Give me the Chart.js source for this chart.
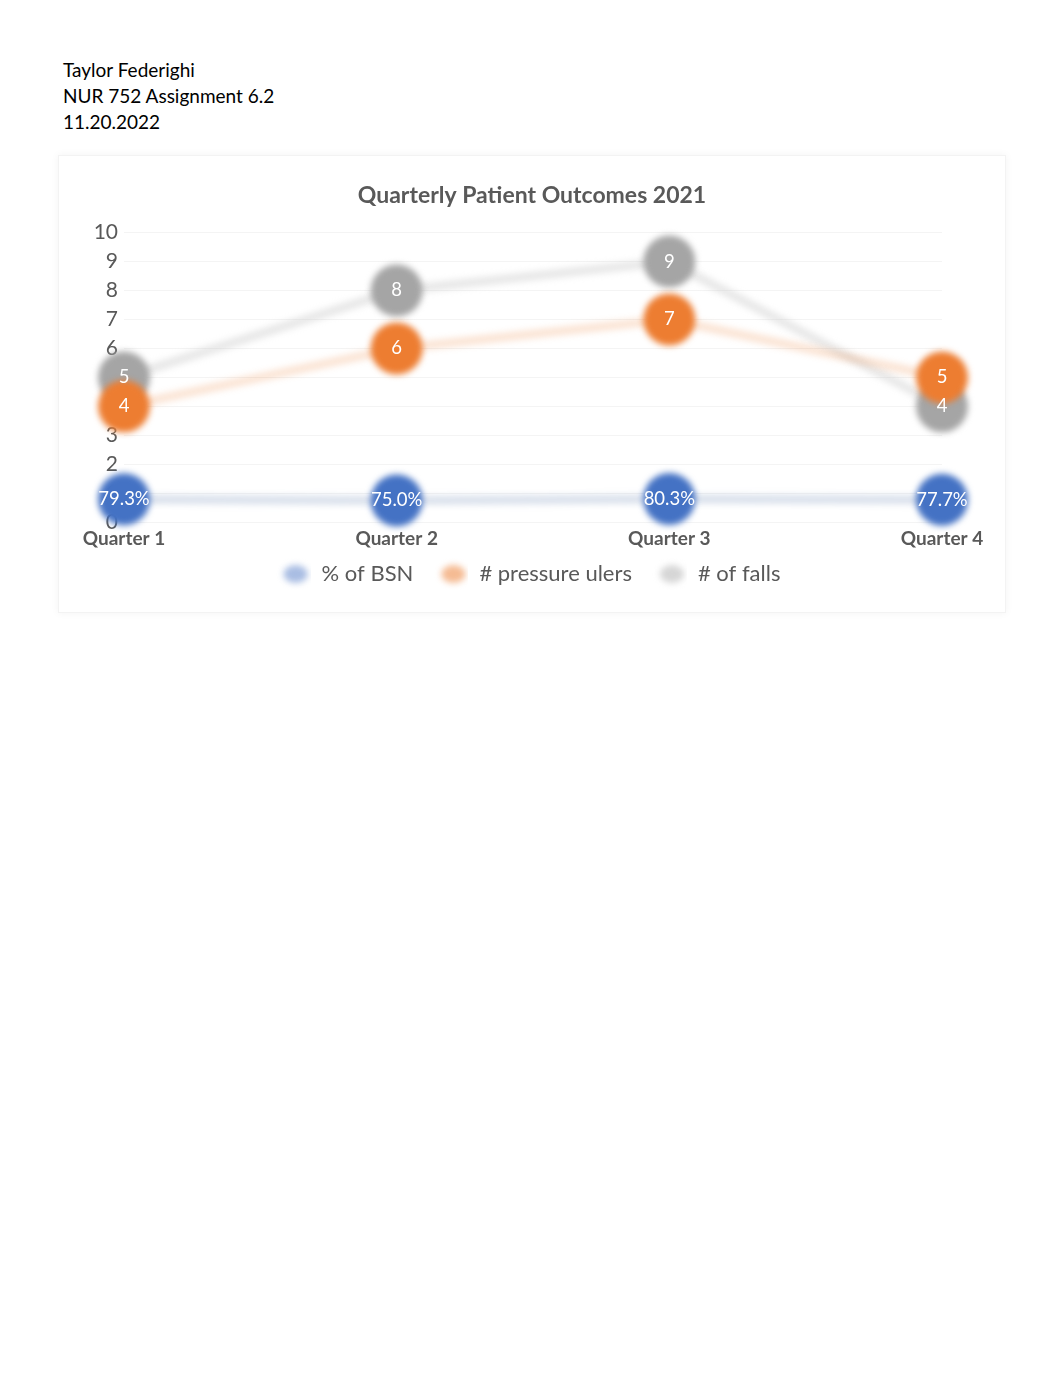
<!DOCTYPE html>
<html>
<head>
<meta charset="utf-8">
<script src="https://cdn.jsdelivr.net/npm/chart.js@4.4.0/dist/chart.umd.min.js"></script>
<style>
  body { margin: 0; background: #fff; font-family: Lato, sans-serif; }
  .header { position: absolute; left: 63px; top: 57px; font-size: 19px; line-height: 26px; color: #000; }
  .box { position: absolute; left: 58px; top: 155px; width: 948px; height: 458px;
         border: 1px solid #f3f3f3; box-shadow: 0 0 8px rgba(0,0,0,0.05); box-sizing: border-box; }
  canvas { display: block; }
</style>
</head>
<body>
<div class="header">Taylor Federighi<br>NUR 752 Assignment 6.2<br>11.20.2022</div>
<div class="box"><canvas id="chart" width="946" height="456"></canvas></div>
<script>
// data
const quarters = ['Quarter 1', 'Quarter 2', 'Quarter 3', 'Quarter 4'];
const bsnPercent = [79.3, 75.0, 80.3, 77.7];
const pressureUlers = [4, 6, 7, 5];
const falls = [5, 8, 9, 4];
const yMin = 0;
const yMax = 10;

const textGray = '#595959';

// blur marks like the original export, keep text sharp
const blurMarks = {
  id: 'blurMarks',
  beforeDatasetsDraw(chart) {
    chart.ctx.save();
    chart.ctx.filter = 'blur(3px)';
  },
  afterDatasetsDraw(chart) {
    chart.ctx.restore();
  }
};

const pointLabels = {
  id: 'pointLabels',
  afterDraw(chart) {
    const ctx = chart.ctx;
    ctx.save();
    ctx.font = '18.5px Lato';
    ctx.fillStyle = '#fff';
    ctx.textAlign = 'center';
    ctx.textBaseline = 'middle';
    chart.data.datasets.forEach((ds, i) => {
      const meta = chart.getDatasetMeta(i);
      meta.data.forEach((pt, j) => {
        const txt = i === 0 ? bsnPercent[j].toFixed(1) + '%' : String(ds.data[j]);
        ctx.fillText(txt, pt.x, pt.y);
      });
    });
    ctx.restore();
  }
};

// the marker sits right of its box, so nudge the legend back to the middle
const legendNudge = {
  id: 'legendNudge',
  afterLayout(chart) {
    chart.legend.left -= 10;
    chart.legend.right -= 10;
  }
};

// soft legend markers, drawn a bit right of the box centre
const legendFill = ['#a9bde3', '#f5bb93', '#d6d6d6'];
const legendMarker = color => {
  const c = document.createElement('canvas');
  c.width = 47;
  c.height = 32;
  const g = c.getContext('2d');
  g.filter = 'blur(3px)';
  g.fillStyle = color;
  g.beginPath();
  g.ellipse(23.5 + 8.5, 16, 12, 9, 0, 0, Math.PI * 2);
  g.fill();
  return c;
};

new Chart(document.getElementById('chart'), {
  type: 'line',
  data: {
    labels: quarters,
    datasets: [
      {
        label: '% of BSN',
        data: bsnPercent.map(v => v / 100),
        borderColor: 'rgba(150,170,200,0.35)',
        borderWidth: 9,
        pointRadius: 26,
        pointBackgroundColor: '#4472c4',
        pointBorderWidth: 0,
        clip: false
      },
      {
        label: '# pressure ulers',
        data: pressureUlers,
        borderColor: 'rgba(237,125,49,0.2)',
        borderWidth: 9,
        pointRadius: 26,
        pointBackgroundColor: '#ed7d31',
        pointBorderWidth: 0,
        clip: false
      },
      {
        label: '# of falls',
        data: falls,
        borderColor: 'rgba(190,190,190,0.35)',
        borderWidth: 9,
        pointRadius: 26,
        pointBackgroundColor: '#a5a5a5',
        pointBorderWidth: 0,
        clip: false
      }
    ]
  },
  options: {
    responsive: false,
    animation: false,
    layout: { padding: { top: 26, right: 0, bottom: 17, left: 0 } },
    scales: {
      x: {
        offset: false,
        grid: { display: false, drawTicks: false },
        border: { display: false },
        ticks: { color: textGray, font: { family: 'Lato', size: 19, weight: 'bold' }, padding: 5, maxRotation: 0 }
      },
      y: {
        min: yMin,
        max: yMax,
        z: 1,
        afterFit: s => { s.width = 65; },
        grid: { color: '#f4f4f4', drawTicks: false },
        border: { display: false },
        ticks: { stepSize: 1, color: textGray, font: { family: 'Lato', size: 21 }, padding: 6 }
      },
      // empty right-hand axis, only keeps space so title and legend stay centred
      yRight: {
        position: 'right',
        afterFit: s => { s.width = 63; },
        grid: { display: false, drawTicks: false },
        border: { display: false },
        ticks: { display: false }
      }
    },
    plugins: {
      title: {
        display: true,
        text: 'Quarterly Patient Outcomes 2021',
        color: textGray,
        font: { family: 'Lato', size: 23, weight: 'bold' },
        padding: { top: 0, bottom: 23 }
      },
      legend: {
        position: 'bottom',
        labels: {
          usePointStyle: true,
          pointStyleWidth: 47,
          boxHeight: 16,
          color: textGray,
          font: { family: 'Lato', size: 22 },
          padding: 8,
          generateLabels(chart) {
            const items = Chart.defaults.plugins.legend.labels.generateLabels(chart);
            items.forEach((it, i) => {
              it.pointStyle = legendMarker(legendFill[i]);
              it.lineWidth = 0;
            });
            return items;
          }
        }
      },
      tooltip: { enabled: false }
    }
  },
  plugins: [blurMarks, pointLabels, legendNudge]
});
</script>
</body>
</html>
